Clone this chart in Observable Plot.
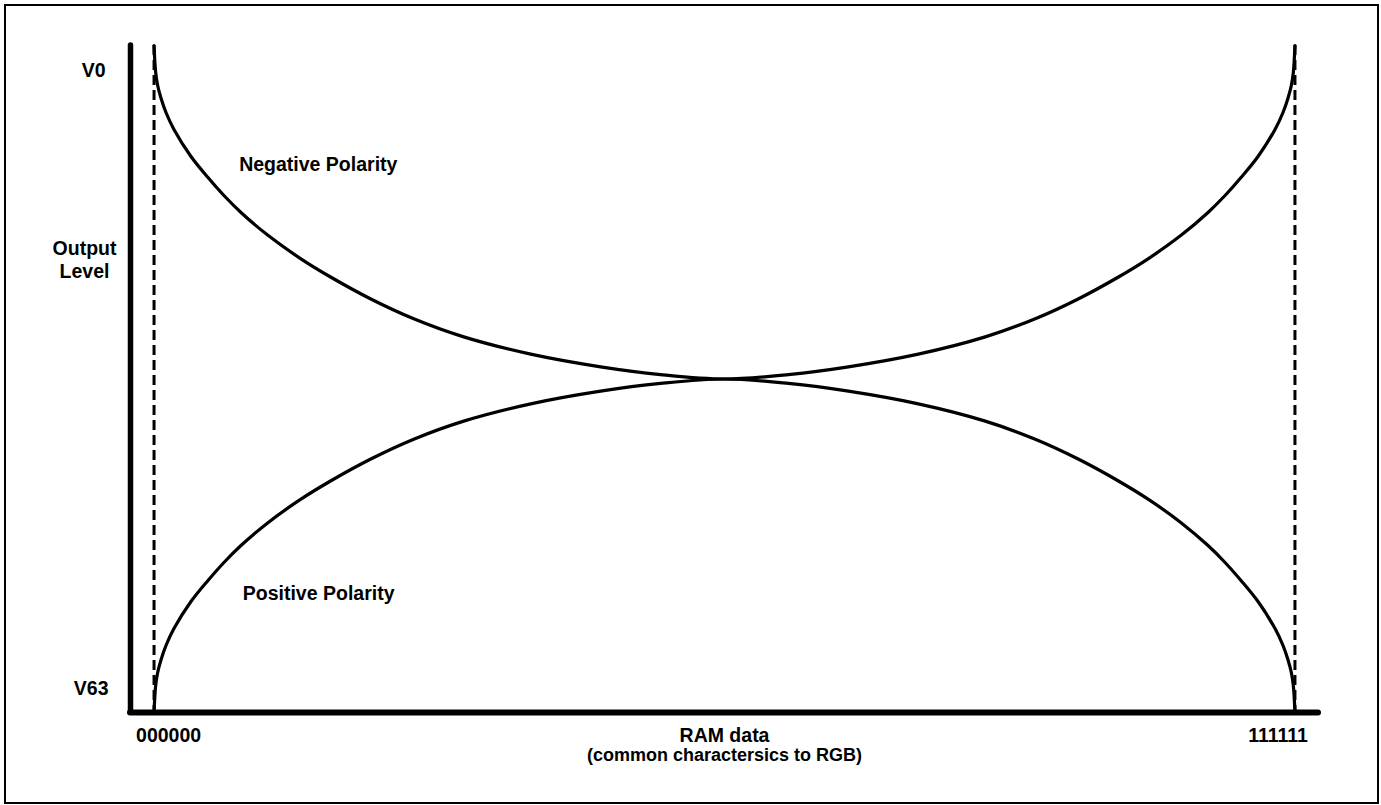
<!DOCTYPE html>
<html>
<head>
<meta charset="utf-8">
<script src="https://cdn.jsdelivr.net/npm/d3@7"></script>
<script src="https://cdn.jsdelivr.net/npm/@observablehq/plot@0.6"></script>
<style>
  html, body { margin: 0; padding: 0; background: #fff; }
  #wrap { position: relative; width: 1381px; height: 805px; overflow: hidden; }
  #border { position: absolute; left: 4px; top: 4px; width: 1371px; height: 796px; border: 2px solid #000; pointer-events: none; }
  svg { display: block; }
</style>
</head>
<body>
<div id="wrap"><div id="border"></div></div>
<script>
// RAM data code (0 = 000000, 63 = 111111)
const ramData = [0, 0.09, 0.2, 0.39, 0.66, 1.1, 2.04, 2.98, 3.86, 4.8, 6.29, 8.11, 9.77, 11.97, 14.34, 17.1, 20.8, 24.66, 27.97, 31.5,
  35.03, 38.34, 42.2, 45.9, 48.66, 51.03, 53.23, 54.89, 56.71, 58.2, 59.14, 60.02, 60.96, 61.9, 62.34, 62.61, 62.8, 62.91, 63];
// Output level (0 = V0, 63 = V63)
const negativeLevel = [0, 2.55, 3.78, 5.01, 6.33, 7.93, 10.48, 12.47, 14.17, 15.77, 17.93, 20.15, 21.89, 23.94, 25.81, 27.52, 29.15, 30.35, 31.08, 31.5,
  31.08, 30.35, 29.15, 27.52, 25.81, 23.94, 21.89, 20.15, 17.93, 15.77, 14.17, 12.47, 10.48, 7.93, 6.33, 5.01, 3.78, 2.55, 0];
const positiveLevel = [63, 60.45, 59.22, 57.99, 56.67, 55.07, 52.52, 50.53, 48.83, 47.23, 45.07, 42.85, 41.11, 39.06, 37.19, 35.48, 33.85, 32.65, 31.92, 31.5,
  31.92, 32.65, 33.85, 35.48, 37.19, 39.06, 41.11, 42.85, 45.07, 47.23, 48.83, 50.53, 52.52, 55.07, 56.67, 57.99, 59.22, 60.45, 63];
const xTickValues = [0, 63];
const xTickLabels = ["000000", "111111"];
const yTickValues = [0, 63];
const yTickLabels = ["V0", "V63"];
const seriesLabels = ["Negative Polarity", "Positive Polarity"];
const xTitle = "RAM data";
const xSubtitle = "(common charactersics to RGB)";
const yTitle = "Output\nLevel";

const rows = ramData.map((x, i) => ({x, neg: negativeLevel[i], pos: positiveLevel[i]}));

const xDomain = [-1.3, 64.3];
const font = "Liberation Sans, Arial, Helvetica, sans-serif";
const fs = 19.5;
const t = {fontWeight: "bold", fontSize: fs, fill: "#000", text: d => d};

const chart = Plot.plot({
  width: 1381,
  height: 805,
  marginLeft: 130,
  marginRight: 63,
  marginTop: 45,
  marginBottom: 93,
  style: {fontFamily: font, background: "transparent", overflow: "visible"},
  x: {domain: xDomain, axis: null},
  y: {domain: [0, 63], reverse: true, axis: null},
  marks: [
    Plot.ruleX(xTickValues, {stroke: "#000", strokeWidth: 3, strokeDasharray: "10,5"}),
    Plot.line(rows, {x: "x", y: "neg", curve: "catmull-rom", stroke: "#000", strokeWidth: 3.2}),
    Plot.line(rows, {x: "x", y: "pos", curve: "catmull-rom", stroke: "#000", strokeWidth: 3.2}),
    Plot.ruleX([xDomain[0]], {stroke: "#000", strokeWidth: 5.5, strokeLinecap: "round"}),
    Plot.ruleY([63], {stroke: "#000", strokeWidth: 6, strokeLinecap: "round"}),
    // y tick labels
    Plot.text([yTickLabels[0]], {...t, x: xDomain[0], y: yTickValues[0], dx: -25, dy: 25, textAnchor: "end"}),
    Plot.text([yTickLabels[1]], {...t, x: xDomain[0], y: yTickValues[1], dx: -22, dy: -24, textAnchor: "end"}),
    // x tick labels
    Plot.text([xTickLabels[0]], {...t, x: xTickValues[0], y: 63, dx: -18, dy: 23, textAnchor: "start"}),
    Plot.text([xTickLabels[1]], {...t, x: xTickValues[1], y: 63, dx: 13, dy: 23, textAnchor: "end"}),
    // axis titles
    Plot.text([xTitle], {...t, x: 31.5, y: 63, dy: 23, textAnchor: "middle"}),
    Plot.text([xSubtitle], {...t, fontSize: 18, x: 31.5, y: 63, dy: 43, textAnchor: "middle"}),
    Plot.text([yTitle], {...t, x: xDomain[0], y: 20.2, dx: -46, lineHeight: 1.18, textAnchor: "middle"}),
    // series labels
    Plot.text([seriesLabels[0]], {...t, x: 4.7, y: 11.3, textAnchor: "start"}),
    Plot.text([seriesLabels[1]], {...t, x: 4.9, y: 51.8, textAnchor: "start"})
  ]
});
document.getElementById("wrap").prepend(chart);
</script>
</body>
</html>
